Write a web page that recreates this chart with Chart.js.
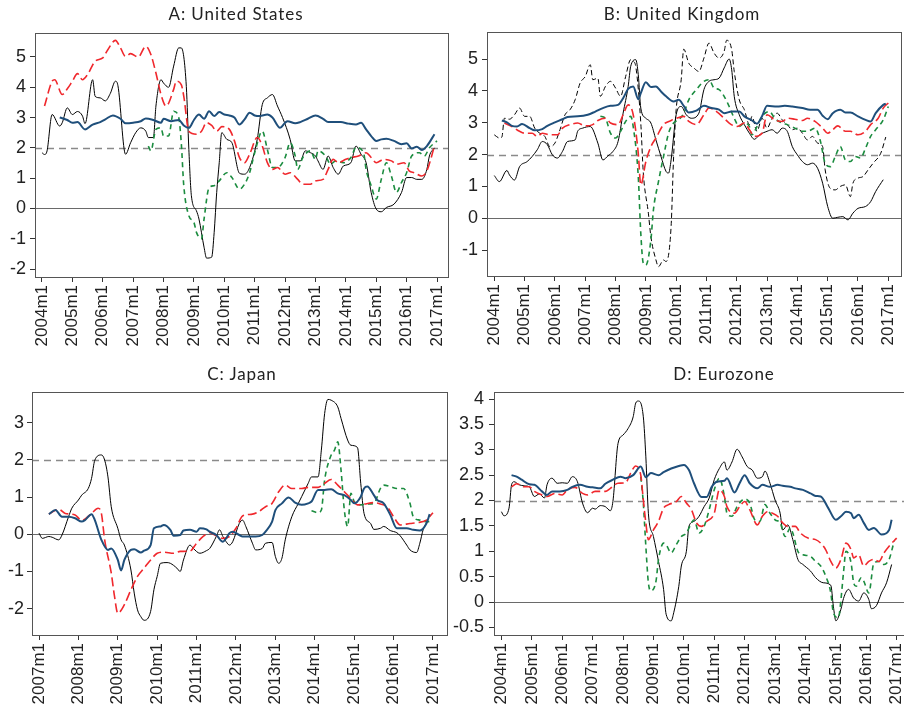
<!DOCTYPE html>
<html>
<head>
<meta charset="utf-8">
<script src="https://cdn.jsdelivr.net/npm/chart.js@4.4.1/dist/chart.umd.min.js"></script>
<style>
  html, body { margin: 0; padding: 0; background: #fff; overflow: hidden; }
  #wrap { position: relative; width: 904px; height: 712px; overflow: hidden; }
  canvas { position: absolute; }
  .ttl { position: absolute; white-space: nowrap; transform: translateX(-50%);
         font-family: Lato, "Open Sans", sans-serif; font-size: 17px; letter-spacing: 0.9px;
         line-height: 20px; color: #222; }
</style>
</head>
<body>
<div id="wrap">
  <canvas id="chartA" width="452" height="356" style="left:0;top:0"></canvas>
  <canvas id="chartB" width="452" height="356" style="left:452px;top:0"></canvas>
  <canvas id="chartC" width="452" height="356" style="left:0;top:356px"></canvas>
  <canvas id="chartD" width="454" height="356" style="left:452px;top:356px"></canvas>
  <div class="ttl" style="left:236px;top:4px">A: United States</div>
  <div class="ttl" style="left:682px;top:4px">B: United Kingdom</div>
  <div class="ttl" style="left:242px;top:364px">C: Japan</div>
  <div class="ttl" style="left:724px;top:364px">D: Eurozone</div>
</div>
<script>
// reference lines
const targetLine = 2;
const zeroLine = 0;

// series are [months since start, value] pairs
// --- A: United States (start 2004m1)
const usYears = [2004, 2005, 2006, 2007, 2008, 2009, 2010, 2011, 2012, 2013, 2014, 2015, 2016, 2017];
const usYTicks = [-2, -1, 0, 1, 2, 3, 4, 5];
const usActual = [[0,1.84],[1,1.78],[2,1.9],[4,3.1],[7,2.72],[8,2.83],[10,3.32],[12,3.1],[14,3.2],[16,3.05],[17,2.8],[20,4.25],[21,3.7],[23,3.65],[25,3.55],[27,3.8],[29,4.2],[30,4.05],[33,1.79],[35,2.17],[37,2.5],[39,2.66],[41,2.55],[42,2.34],[44,2.34],[45,3.38],[47,4.25],[48,4.14],[50,4.0],[52,4.7],[54,5.3],[55,5.3],[57,4.03],[58,1.95],[59,0.42],[61,-0.08],[62,-0.35],[64,-1.28],[65,-1.64],[67,-1.61],[68,-0.79],[69,0.53],[70,1.51],[71,2.5],[73,2.28],[75,2.17],[78,1.16],[80,1.13],[82,1.35],[85,2.28],[87,3.43],[89,3.65],[91,3.76],[93,3.38],[95,3.0],[98,2.28],[100,1.57],[102,1.57],[104,1.9],[106,1.84],[108,1.73],[109,1.57],[111,1.29],[113,1.73],[115,1.35],[117,1.13],[119,1.4],[122,1.51],[124,2.06],[126,1.79],[128,1.51],[130,0.53],[132,-0.02],[134,-0.11],[136,0.03],[139,0.14],[142,0.53],[144,1.02],[146,1.02],[148,0.96],[150,0.96],[152,1.29],[153,1.73],[155,2.0]];
const usLongExp = [[7,3.0],[10,2.92],[12,2.83],[14,2.85],[17,2.61],[20,2.77],[23,2.85],[25,2.94],[28,3.07],[31,2.96],[33,2.81],[36,2.83],[39,2.88],[41,2.97],[44,2.92],[47,2.83],[48,2.96],[51,2.88],[54,2.92],[56,2.74],[58,2.66],[60,2.92],[62,3.1],[64,2.96],[66,3.21],[68,3.05],[70,3.18],[72,3.1],[74,3.07],[76,3.0],[78,2.77],[80,2.94],[82,3.16],[84,3.07],[86,3.05],[89,3.1],[91,3.0],[94,2.66],[96,2.83],[97,2.88],[100,2.81],[102,2.85],[105,2.96],[108,3.07],[111,2.96],[113,2.85],[116,2.85],[118,2.85],[121,2.8],[124,2.77],[126,2.83],[128,2.61],[130,2.39],[132,2.23],[134,2.28],[136,2.3],[139,2.23],[142,2.12],[144,2.15],[146,1.98],[148,2.04],[150,1.93],[152,2.06],[155,2.45]];
const usShortExp = [[1,3.38],[4,4.2],[5,4.25],[8,3.76],[10,3.95],[12,4.2],[14,4.45],[16,4.25],[18,4.42],[21,4.86],[24,4.97],[26,5.24],[29,5.55],[31,5.3],[33,5.02],[35,5.11],[38,5.0],[41,5.35],[43,5.08],[45,4.47],[47,3.76],[49,3.38],[52,3.93],[53,4.2],[55,4.09],[56,3.7],[58,2.55],[61,2.45],[63,2.55],[65,2.83],[67,2.74],[69,2.55],[71,2.7],[74,2.61],[76,2.23],[78,1.68],[80,1.51],[82,1.79],[85,2.34],[87,2.06],[89,1.51],[91,1.29],[93,1.35],[96,1.13],[98,1.18],[101,0.96],[103,0.8],[106,0.8],[108,0.91],[111,0.96],[113,1.29],[115,1.62],[117,1.51],[120,1.62],[122,1.68],[125,1.73],[128,1.84],[130,1.68],[132,1.51],[135,1.62],[138,1.57],[140,1.46],[143,1.51],[145,1.24],[147,1.18],[150,1.07],[152,1.24],[155,2.06]];
const usMarket = [[42,2.06],[43,1.9],[45,2.61],[47,2.66],[48,2.39],[50,2.39],[52,3.21],[54,3.0],[55,2.17],[56,0.75],[58,-0.24],[60,-0.46],[61,-0.79],[63,-1.0],[64,-0.35],[66,0.69],[68,0.75],[70,0.91],[73,1.18],[75,1.02],[78,0.64],[80,0.8],[82,1.18],[84,1.84],[87,2.55],[89,1.95],[91,1.35],[93,1.35],[96,1.68],[98,2.17],[100,1.73],[101,1.29],[103,1.68],[106,1.9],[108,1.62],[109,1.9],[112,1.73],[114,1.46],[116,1.57],[119,1.51],[122,1.68],[124,2.01],[127,1.84],[128,1.29],[130,0.75],[132,0.31],[134,0.96],[136,1.51],[138,1.07],[140,0.53],[142,0.86],[144,1.18],[146,1.73],[149,1.84],[151,1.73],[153,2.0],[156,2.23]];

// --- B: United Kingdom (start 2004m1)
const ukYTicks = [-1, 0, 1, 2, 3, 4, 5];
const ukActual = [[0,1.34],[2,1.15],[5,1.5],[6,1.36],[8,1.2],[10,1.62],[13,1.78],[15,1.94],[17,2.15],[19,2.41],[21,2.31],[23,1.99],[25,1.89],[27,2.1],[29,2.41],[32,2.46],[33,2.73],[35,2.83],[38,2.88],[41,2.36],[43,1.83],[45,1.96],[47,2.1],[49,2.41],[51,3.3],[53,4.14],[54,4.77],[56,4.98],[57,4.51],[58,3.46],[60,3.14],[62,2.99],[64,2.46],[66,1.94],[68,1.47],[69,1.42],[70,1.83],[72,3.25],[74,3.51],[76,3.25],[78,3.14],[81,3.3],[83,4.04],[85,4.3],[87,4.35],[89,4.4],[91,4.72],[93,5.0],[94,4.66],[95,3.83],[97,3.25],[99,2.94],[101,2.67],[103,2.48],[105,2.62],[108,2.73],[110,2.78],[112,2.67],[114,2.83],[116,2.73],[118,2.25],[120,1.99],[122,1.78],[124,1.68],[126,1.73],[128,1.57],[130,1.1],[132,0.37],[134,0.0],[136,0.03],[138,0.05],[140,-0.05],[142,0.16],[144,0.31],[147,0.37],[149,0.52],[151,0.84],[154,1.21]];
const ukRpi = [[0,2.62],[2,2.52],[3,2.55],[4,3.14],[6,3.11],[8,3.25],[10,3.46],[12,3.2],[14,3.2],[16,2.83],[18,2.67],[20,2.57],[22,2.25],[24,2.36],[26,2.78],[28,3.25],[30,3.41],[32,3.72],[34,4.25],[36,4.45],[38,4.82],[39,4.35],[41,4.4],[42,3.83],[44,4.14],[46,4.3],[48,4.09],[50,3.83],[52,4.45],[54,4.98],[55,4.93],[56,4.77],[58,2.99],[59,1.42],[61,0.16],[62,-0.58],[64,-1.31],[65,-1.52],[67,-1.31],[68,-1.36],[70,-0.26],[71,1.94],[72,3.41],[74,4.35],[75,5.31],[77,4.87],[79,4.72],[81,4.61],[83,5.03],[85,5.5],[87,5.19],[89,5.03],[91,5.24],[92,5.59],[94,5.29],[95,4.61],[97,3.72],[99,3.41],[101,2.94],[102,3.2],[104,2.73],[106,3.14],[108,2.83],[110,3.14],[112,3.3],[114,3.09],[116,2.94],[118,2.78],[120,2.83],[122,2.67],[124,2.46],[126,2.57],[128,2.36],[130,2.25],[131,1.52],[133,0.94],[135,0.89],[137,1.0],[139,1.05],[141,0.68],[142,1.1],[144,1.26],[146,1.31],[148,1.52],[150,1.73],[153,2.04],[155,2.55]];
const ukLongExp = [[3,3.07],[5,3.01],[7,2.9],[9,2.88],[11,2.96],[14,2.83],[16,2.76],[19,2.8],[21,2.9],[24,3.01],[27,3.11],[29,3.18],[33,3.2],[37,3.25],[40,3.35],[43,3.46],[46,3.53],[49,3.56],[51,3.77],[53,4.06],[55,4.14],[57,3.74],[58,3.93],[60,4.27],[62,4.12],[64,4.14],[66,3.98],[68,3.83],[71,3.67],[73,3.72],[75,3.53],[77,3.32],[80,3.38],[83,3.53],[86,3.46],[89,3.41],[91,3.3],[94,3.35],[97,3.35],[99,3.2],[102,3.07],[104,2.97],[106,3.2],[108,3.53],[112,3.51],[115,3.53],[118,3.51],[122,3.46],[125,3.41],[128,3.41],[130,3.22],[132,3.11],[134,3.3],[137,3.41],[139,3.32],[141,3.32],[144,3.2],[147,3.09],[149,3.04],[151,3.3],[154,3.56],[155,3.6]];
const ukShortExp = [[4,2.99],[7,2.88],[10,2.73],[12,2.67],[15,2.67],[17,2.57],[19,2.67],[22,2.62],[25,2.62],[27,2.83],[30,2.94],[33,2.99],[36,2.9],[39,2.94],[41,3.07],[44,3.14],[46,2.99],[49,2.94],[51,3.25],[53,3.56],[55,3.25],[57,2.04],[58,1.05],[60,1.78],[62,2.25],[64,2.52],[67,2.94],[70,3.07],[72,3.14],[75,3.2],[77,3.04],[80,2.94],[83,3.25],[85,3.46],[88,3.35],[91,3.14],[93,2.99],[96,2.88],[99,2.99],[101,2.78],[103,2.57],[106,2.67],[108,3.25],[111,3.09],[114,3.04],[116,3.14],[119,3.11],[122,3.07],[124,3.14],[127,3.04],[130,2.83],[132,2.67],[134,2.78],[136,2.9],[139,2.73],[141,2.73],[144,2.62],[147,2.73],[149,2.94],[152,3.14],[154,3.46],[156,3.62]];
const ukMarket = [[42,3.2],[44,3.14],[46,2.67],[48,2.52],[50,2.73],[52,3.04],[54,3.2],[55,2.88],[57,1.31],[58,-0.47],[59,-1.42],[60,-1.47],[62,-0.68],[63,0.26],[65,1.15],[67,1.94],[69,2.67],[71,2.99],[73,3.09],[75,3.3],[77,3.72],[80,4.04],[83,4.3],[85,4.35],[87,4.09],[89,4.04],[91,3.83],[93,3.51],[95,3.14],[97,2.88],[99,2.99],[101,2.88],[102,2.62],[104,2.88],[106,3.2],[109,3.35],[111,3.14],[114,2.99],[116,2.94],[119,2.83],[122,2.73],[124,2.73],[127,2.83],[129,2.46],[131,1.73],[133,1.62],[135,1.94],[137,2.25],[139,1.83],[141,1.78],[143,1.94],[145,1.89],[147,2.2],[149,2.57],[151,2.78],[154,3.09],[156,3.51]];

// --- C: Japan (start 2007m1)
const jpYears = [2007, 2008, 2009, 2010, 2011, 2012, 2013, 2014, 2015, 2016, 2017];
const jpYTicks = [-2, -1, 0, 1, 2, 3];
const jpActual = [[0,0.03],[1,-0.11],[3,-0.06],[4,-0.08],[6,-0.15],[7,-0.02],[9,0.47],[10,0.7],[12,0.92],[13,1.05],[15,1.23],[16,1.5],[17,1.99],[19,2.13],[20,1.99],[21,1.54],[22,0.74],[24,0.16],[25,-0.15],[26,-0.29],[28,-0.96],[29,-1.58],[30,-2.03],[31,-2.21],[32,-2.31],[34,-2.07],[35,-1.49],[36,-1.13],[37,-0.78],[39,-0.76],[40,-0.78],[42,-0.91],[43,-1.0],[44,-0.69],[46,-0.29],[47,-0.38],[49,-0.51],[51,-0.44],[52,-0.38],[54,-0.06],[55,0.12],[56,-0.06],[57,-0.2],[58,-0.29],[59,-0.2],[61,0.29],[62,0.38],[63,0.21],[65,-0.24],[66,-0.42],[68,-0.38],[69,-0.24],[71,-0.22],[72,-0.6],[73,-0.78],[74,-0.64],[75,-0.15],[77,0.47],[79,0.83],[80,1.01],[82,1.37],[83,1.54],[85,1.54],[86,2.26],[87,3.24],[88,3.62],[89,3.6],[91,3.42],[92,3.11],[94,2.53],[95,2.39],[97,2.33],[98,1.37],[99,0.56],[101,0.29],[102,0.13],[104,0.16],[105,0.21],[107,0.1],[109,0.04],[110,-0.04],[112,-0.29],[113,-0.42],[115,-0.49],[116,-0.24],[117,0.12],[118,0.3]];
const jpLongExp = [[3,0.54],[5,0.65],[7,0.47],[9,0.47],[11,0.43],[13,0.34],[14,0.38],[16,0.54],[17,0.38],[19,-0.15],[21,-0.42],[22,-0.38],[24,-0.69],[25,-0.97],[26,-0.69],[28,-0.42],[29,-0.4],[31,-0.49],[32,-0.44],[34,-0.29],[35,0.16],[37,0.21],[38,0.25],[40,0.12],[41,-0.04],[43,-0.02],[44,0.1],[46,0.12],[48,0.07],[49,0.16],[51,0.13],[52,0.07],[54,-0.02],[56,-0.2],[57,-0.11],[58,0.03],[59,0.07],[61,-0.02],[62,-0.06],[64,-0.06],[66,-0.06],[68,-0.02],[69,0.07],[71,0.34],[72,0.65],[74,0.83],[76,0.99],[78,0.85],[80,0.79],[82,0.83],[83,0.88],[85,1.19],[87,1.19],[89,1.21],[91,1.1],[93,1.05],[95,0.92],[96,0.83],[98,1.01],[99,1.23],[100,1.28],[102,1.05],[103,0.92],[105,0.83],[107,0.52],[109,0.16],[110,0.16],[112,0.16],[114,0.12],[116,0.1],[118,0.29],[119,0.54]];
const jpShortExp = [[3,0.54],[6,0.67],[8,0.56],[11,0.52],[13,0.37],[16,0.56],[18,0.7],[19,0.56],[20,-0.15],[22,-1.04],[23,-1.67],[24,-2.12],[26,-1.89],[28,-1.49],[30,-1.13],[32,-0.91],[34,-0.69],[36,-0.51],[38,-0.48],[41,-0.51],[43,-0.46],[46,-0.45],[48,-0.24],[50,-0.06],[52,0.04],[54,-0.04],[56,-0.11],[58,-0.06],[60,0.16],[62,0.49],[65,0.54],[67,0.61],[69,0.74],[71,0.83],[73,1.14],[75,1.32],[77,1.23],[80,1.23],[82,1.26],[85,1.26],[87,1.37],[89,1.47],[91,1.32],[93,1.14],[95,0.96],[97,0.79],[99,0.81],[102,0.85],[104,0.81],[106,0.74],[108,0.47],[110,0.25],[113,0.29],[115,0.31],[118,0.38],[120,0.58]];
const jpMarket = [[83,0.63],[85,0.58],[86,0.65],[87,1.46],[89,2.13],[90,2.26],[91,2.48],[92,1.72],[93,0.65],[94,0.21],[95,1.1],[96,0.88],[98,0.79],[100,0.81],[102,0.83],[104,1.23],[105,1.32],[107,1.28],[109,1.23],[111,1.23],[113,0.83],[114,0.47],[116,0.38],[118,0.34],[120,0.34]];

// --- D: Eurozone (start 2004m1)
const ezYTicks = [-0.5, 0, 0.5, 1, 1.5, 2, 2.5, 3, 3.5, 4];
const ezActual = [[0,1.78],[1,1.7],[3,1.85],[4,2.31],[5,2.37],[7,2.31],[9,2.29],[11,2.27],[13,2.08],[15,2.13],[17,2.05],[18,2.31],[20,2.44],[22,2.34],[24,2.35],[26,2.34],[28,2.47],[30,2.37],[32,1.95],[34,1.76],[36,1.85],[37,1.83],[39,1.9],[41,1.88],[43,1.8],[44,1.98],[46,3.12],[48,3.29],[50,3.42],[52,3.65],[53,3.92],[54,3.96],[56,3.65],[57,2.86],[58,1.75],[60,1.29],[62,0.8],[64,0.25],[65,-0.24],[67,-0.37],[68,-0.21],[70,0.31],[71,0.71],[73,1.0],[74,1.49],[76,1.59],[78,1.69],[80,1.88],[82,2.05],[84,2.41],[86,2.63],[88,2.76],[89,2.6],[91,2.76],[93,3.01],[95,2.86],[97,2.67],[99,2.6],[101,2.44],[103,2.47],[104,2.58],[106,2.34],[108,2.01],[110,1.75],[111,1.42],[113,1.52],[115,1.23],[117,0.84],[119,0.74],[122,0.61],[124,0.48],[127,0.38],[130,0.33],[131,-0.08],[132,-0.37],[134,-0.14],[135,0.07],[137,0.25],[139,0.08],[141,0.02],[143,0.18],[145,0.05],[146,-0.13],[148,-0.07],[150,0.18],[152,0.38],[154,0.74]];
const ezLongExp = [[4,2.5],[6,2.47],[8,2.41],[11,2.32],[13,2.31],[16,2.18],[18,2.11],[20,2.18],[23,2.18],[26,2.21],[28,2.27],[31,2.31],[34,2.27],[36,2.26],[39,2.24],[41,2.33],[44,2.41],[47,2.47],[49,2.44],[52,2.5],[55,2.67],[57,2.46],[59,2.54],[62,2.5],[64,2.56],[67,2.63],[70,2.68],[72,2.7],[74,2.6],[76,2.34],[79,2.07],[81,2.07],[83,2.27],[85,2.37],[88,2.39],[89,2.44],[92,2.16],[94,2.34],[96,2.5],[98,2.34],[101,2.24],[103,2.31],[106,2.27],[109,2.31],[111,2.29],[114,2.27],[116,2.24],[119,2.21],[122,2.14],[124,2.09],[126,2.08],[129,1.85],[132,1.62],[134,1.69],[136,1.78],[138,1.75],[139,1.65],[141,1.72],[143,1.56],[145,1.42],[147,1.46],[150,1.33],[153,1.42],[154,1.62]];
const ezShortExp = [[4,2.27],[6,2.33],[9,2.27],[11,2.27],[13,2.18],[16,2.11],[18,2.08],[21,2.14],[24,2.11],[26,2.21],[29,2.26],[32,2.14],[34,2.11],[37,2.18],[41,2.18],[43,2.24],[46,2.34],[49,2.35],[51,2.54],[53,2.68],[55,2.5],[56,2.01],[57,1.56],[58,1.23],[60,1.42],[62,1.59],[64,1.85],[66,1.92],[69,1.98],[71,2.08],[73,1.95],[75,1.82],[77,1.56],[79,1.49],[81,1.59],[84,1.75],[86,2.21],[88,2.08],[89,1.88],[92,1.75],[94,1.88],[96,1.98],[98,1.82],[101,1.52],[103,1.69],[105,1.78],[107,1.75],[109,1.69],[111,1.56],[113,1.49],[116,1.49],[118,1.36],[121,1.26],[124,1.23],[126,1.16],[128,1.03],[130,0.8],[132,0.67],[134,0.84],[136,1.16],[138,1.03],[139,0.87],[141,0.93],[143,0.71],[145,0.8],[147,0.84],[149,0.8],[151,0.97],[153,1.1],[156,1.26]];
const ezMarket = [[55,2.47],[56,1.95],[57,1.1],[58,0.38],[59,0.22],[61,0.41],[62,0.84],[64,1.16],[65,1.13],[67,0.97],[69,1.13],[71,1.29],[73,1.36],[75,1.56],[76,1.62],[78,1.36],[80,1.49],[82,1.82],[84,2.21],[86,2.44],[88,2.08],[89,1.75],[91,1.69],[93,1.88],[96,2.03],[98,1.95],[100,1.62],[102,1.59],[104,1.92],[106,1.75],[108,1.62],[110,1.56],[112,1.29],[114,1.46],[115,1.36],[117,1.0],[119,0.93],[122,0.9],[124,0.8],[126,0.71],[128,0.51],[130,0.18],[131,-0.21],[133,-0.31],[134,0.05],[135,0.58],[136,1.0],[138,0.77],[139,0.38],[140,0.31],[142,0.48],[143,0.41],[145,0.18],[147,0.77],[149,0.8],[151,0.74],[153,0.84],[155,1.2]];

const BLUE = '#1f4f7b', RED = '#f0282d', GREEN = '#1b8c3f', BLACK = '#000';
const tickFont = 'Liberation Sans, Arial, Helvetica, sans-serif';

function toPoints(series, startYear) {
  return series.map(p => ({ x: startYear + p[0] / 12, y: p[1] }));
}

function lineSet(series, startYear, color, width, dash) {
  return {
    data: toPoints(series, startYear),
    borderColor: color,
    borderWidth: width,
    borderDash: dash || [],
    pointRadius: 0,
    tension: 0,
    cubicInterpolationMode: 'monotone',
    fill: false
  };
}

// 0 line and dashed 2% target line, plus the box round the plot area
const panelLines = {
  id: 'panelLines',
  beforeDatasetsDraw(chart) {
    const { ctx, chartArea: a, scales: { y } } = chart;
    ctx.save();
    let y0 = Math.round(y.getPixelForValue(zeroLine)) + 0.5;
    ctx.strokeStyle = '#6a6a6a';
    ctx.lineWidth = 1.2;
    ctx.beginPath(); ctx.moveTo(a.left, y0); ctx.lineTo(a.right, y0); ctx.stroke();
    let y2 = Math.round(y.getPixelForValue(targetLine)) + 0.5;
    ctx.strokeStyle = '#8a8a8a';
    ctx.setLineDash([7, 5]);
    ctx.lineWidth = 1.3;
    ctx.beginPath(); ctx.moveTo(a.left, y2); ctx.lineTo(a.right, y2); ctx.stroke();
    ctx.restore();
  },
  afterDraw(chart) {
    const { ctx, chartArea: a } = chart;
    ctx.save();
    ctx.strokeStyle = '#555';
    ctx.lineWidth = 1;
    ctx.strokeRect(Math.round(a.left) + 0.5, Math.round(a.top) + 0.5,
                   Math.round(a.right - a.left), Math.round(a.bottom - a.top));
    ctx.restore();
  }
};

function makePanel(id, g, datasets) {
  const canvas = document.getElementById(id);
  return new Chart(canvas, {
    type: 'line',
    data: { datasets: datasets },
    plugins: [panelLines],
    options: {
      responsive: false,
      animation: false,
      events: [],
      layout: { padding: { top: g.top, right: canvas.width - g.right, left: 0, bottom: 0 } },
      plugins: { legend: { display: false }, tooltip: { enabled: false }, title: { display: false } },
      scales: {
        x: {
          type: 'linear',
          min: g.xMin, max: g.xMax,
          afterBuildTicks: s => { s.ticks = g.years.map(v => ({ value: v })); },
          afterFit: s => { s.height = canvas.height - g.bottom; s.paddingLeft = 0; s.paddingRight = 0; },
          grid: { drawOnChartArea: false, drawTicks: true, tickLength: 5, tickColor: '#333' },
          border: { display: false },
          ticks: {
            autoSkip: false, minRotation: 90, maxRotation: 90, padding: 3,
            color: '#222', font: { family: tickFont, size: 17 },
            callback: v => v + 'm1'
          }
        },
        y: {
          min: g.yMin, max: g.yMax,
          afterBuildTicks: s => { s.ticks = g.yTicks.map(v => ({ value: v })); },
          afterFit: s => { s.width = g.left; s.paddingTop = 0; s.paddingBottom = 0; },
          grid: { drawOnChartArea: false, drawTicks: true, tickLength: 5, tickColor: '#333' },
          border: { display: false },
          ticks: {
            padding: g.yPad, color: '#222', font: { family: tickFont, size: 18 },
            callback: v => String(v)
          }
        }
      }
    }
  });
}

makePanel('chartA',
  { left: 35, right: 448, top: 33, bottom: 277, xMin: 2003.770, xMax: 2017.362,
    yMin: -2.264, yMax: 5.792, years: usYears, yTicks: usYTicks, yPad: 4 },
  [ lineSet(usLongExp, 2004, BLUE, 2),
    lineSet(usShortExp, 2004, RED, 1.6, [9, 4]),
    lineSet(usMarket, 2004, GREEN, 1.6, [5, 4]),
    lineSet(usActual, 2004, BLACK, 1) ]);

makePanel('chartB',
  { left: 35, right: 449, top: 32, bottom: 276, xMin: 2003.759, xMax: 2017.419,
    yMin: -1.814, yMax: 5.849, years: usYears, yTicks: ukYTicks, yPad: 4 },
  [ lineSet(ukLongExp, 2004, BLUE, 2),
    lineSet(ukShortExp, 2004, RED, 1.6, [9, 4]),
    lineSet(ukMarket, 2004, GREEN, 1.6, [5, 4]),
    lineSet(ukActual, 2004, BLACK, 1),
    lineSet(ukRpi, 2004, BLACK, 1, [5, 3]) ]);

makePanel('chartC',
  { left: 32, right: 447, top: 36, bottom: 279, xMin: 2006.822, xMax: 2017.356,
    yMin: -2.705, yMax: 3.82, years: jpYears, yTicks: jpYTicks, yPad: 3 },
  [ lineSet(jpLongExp, 2007, BLUE, 2),
    lineSet(jpShortExp, 2007, RED, 1.6, [9, 4]),
    lineSet(jpMarket, 2007, GREEN, 1.6, [5, 4]),
    lineSet(jpActual, 2007, BLACK, 1) ]);

makePanel('chartD',
  { left: 42, right: 454, top: 36, bottom: 279, xMin: 2003.756, xMax: 2017.306,
    yMin: -0.649, yMax: 4.138, years: usYears, yTicks: ezYTicks, yPad: 5 },
  [ lineSet(ezLongExp, 2004, BLUE, 2),
    lineSet(ezShortExp, 2004, RED, 1.6, [9, 4]),
    lineSet(ezMarket, 2004, GREEN, 1.6, [5, 4]),
    lineSet(ezActual, 2004, BLACK, 1) ]);
</script>
</body>
</html>
